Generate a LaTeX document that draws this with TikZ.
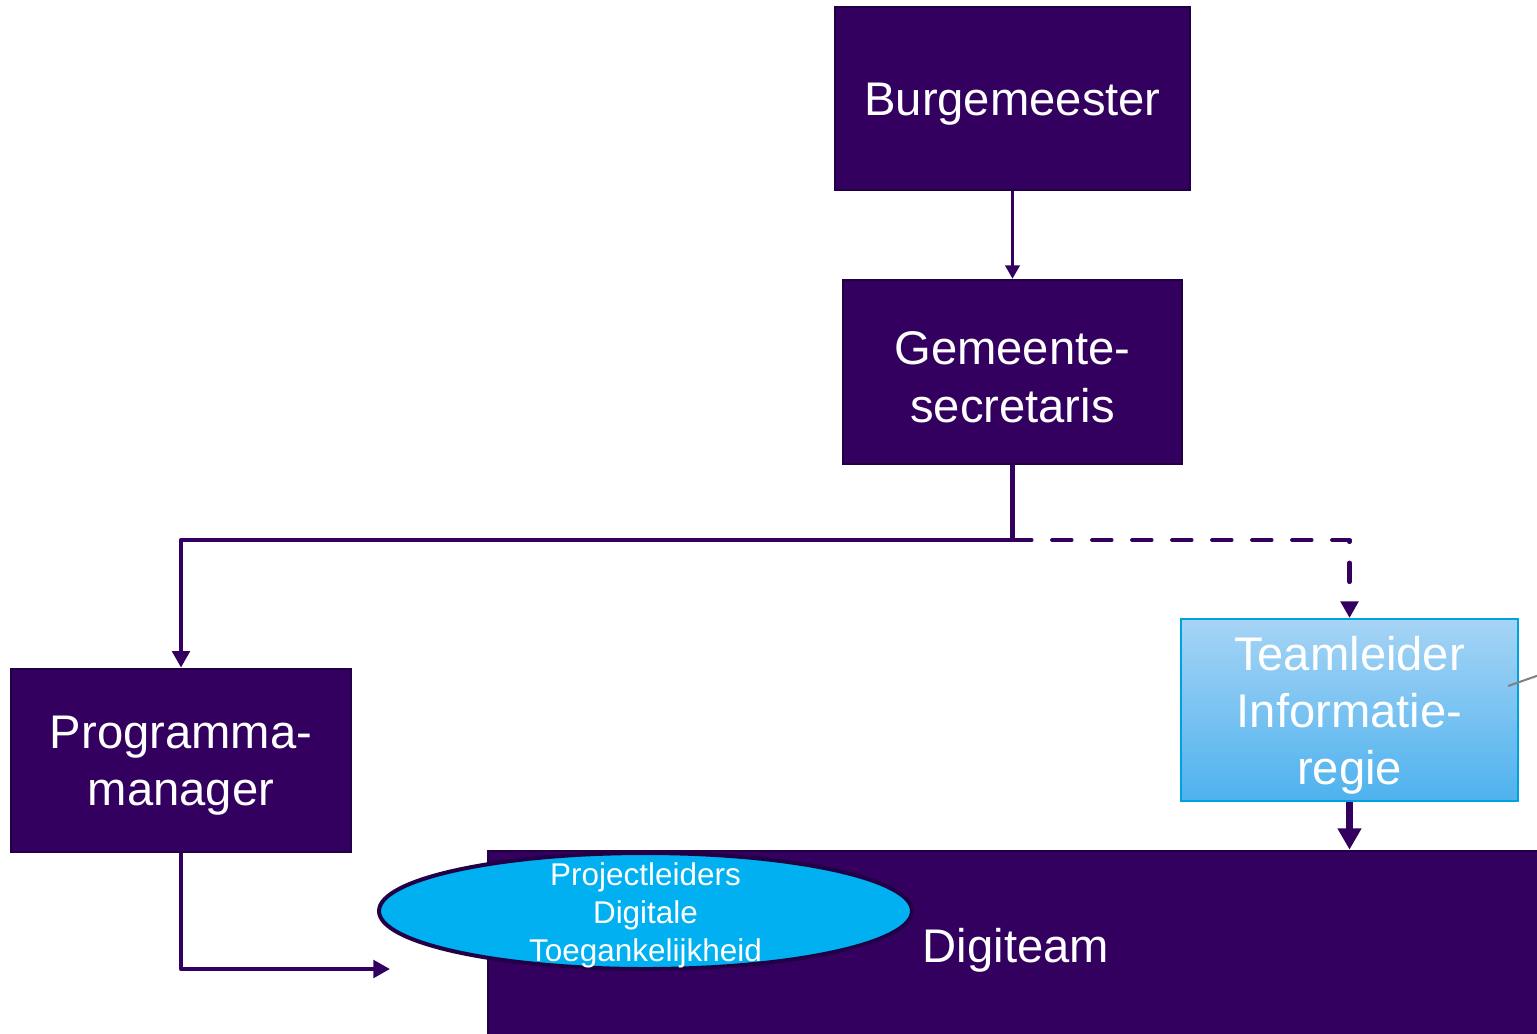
\documentclass[tikz,border=0pt]{standalone}
\usepackage{fontspec}
\setmainfont{Liberation Sans}
\usetikzlibrary{arrows.meta,shapes.geometric}
\definecolor{dpurple}{RGB}{51,0,96}
\definecolor{dborder}{RGB}{34,0,70}
\definecolor{ltop}{RGB}{166,212,245}
\definecolor{lbot}{RGB}{78,178,238}
\definecolor{lborder}{RGB}{0,162,221}
\definecolor{ellfill}{RGB}{0,176,240}
\begin{document}
\begin{tikzpicture}[x=0.75pt,y=-0.75pt,
  bigtext/.style={text=white,font=\fontsize{35.4pt}{43pt}\selectfont,align=center,inner sep=0pt,yshift=-4pt},
  smalltext/.style={text=white,font=\fontsize{23.6pt}{28.5pt}\selectfont,align=center,inner sep=0pt,yshift=-3.5pt},
  darkbox/.style={rectangle,fill=dpurple,draw=dborder,line width=2pt,inner sep=0pt},
  lightbox/.style={rectangle,top color=ltop,bottom color=lbot,draw=lborder,line width=1.5pt,inner sep=0pt},
  conn/.style={draw=dpurple,line width=3.6pt,line join=round},
  thinconn/.style={draw=dpurple,line width=1.6pt},
  tipA/.style={-{Triangle[length=12.5pt,width=13pt]}},
  tipB/.style={-{Triangle[length=16pt,width=17pt]}},
  tipC/.style={-{Triangle[length=10pt,width=11pt]}}
]
\useasboundingbox (0,0) rectangle (1537,1033);
\clip (0,0) rectangle (1537,1033);
\fill[white] (0,0) rectangle (1537,1033);

\node[darkbox,minimum width=355*0.75pt,minimum height=183*0.75pt,
  label={[bigtext]center:Burgemeester}] (burg) at (1012.5,98.5) {};
\node[darkbox,minimum width=339*0.75pt,minimum height=184*0.75pt,
  label={[bigtext]center:{Gemeente-\\secretaris}}] (gem) at (1012.5,372) {};
\node[darkbox,minimum width=340*0.75pt,minimum height=183*0.75pt,
  label={[bigtext]center:{Programma-\\manager}}] (prog) at (181,760.5) {};
\node[lightbox,minimum width=337*0.75pt,minimum height=182*0.75pt,
  label={[bigtext]center:{Teamleider\\Informatie-\\regie}}] (team) at (1349.5,710) {};
\node[darkbox,minimum width=1080*0.75pt,minimum height=200*0.75pt] (dig) at (1028,951) {};
\node[bigtext] (digt) at (1016,945) {Digiteam};
\node[ellipse,fill=ellfill,draw=dborder,line width=3pt,inner sep=0pt,
  minimum width=533*0.75pt,minimum height=116*0.75pt] (proj) at (645.5,911) {};
\node[smalltext] (projt) at (proj.center) {Projectleiders\\Digitale\\Toegankelijkheid};

\coordinate (j) at (1012.5,540);
\coordinate (pend) at (390,969);
\coordinate (g1) at (1508,686);
\coordinate (g2) at (1545,673);

\draw[thinconn,tipC] (burg.south) -- (gem.north);
\draw[conn,tipA] (gem.south) -- (j) -| (prog.north);
\draw[conn,tipA,dash pattern=on 14pt off 16pt,line cap=round] (j) -| (team.north);
\draw[draw=dpurple,line width=5.5pt,tipB] (team.south) -- (team.south |- dig.north);
\draw[conn,tipA] (prog.south) |- (pend);
\draw[gray,line width=1.5pt] (g1) -- (g2);
\end{tikzpicture}
\end{document}
